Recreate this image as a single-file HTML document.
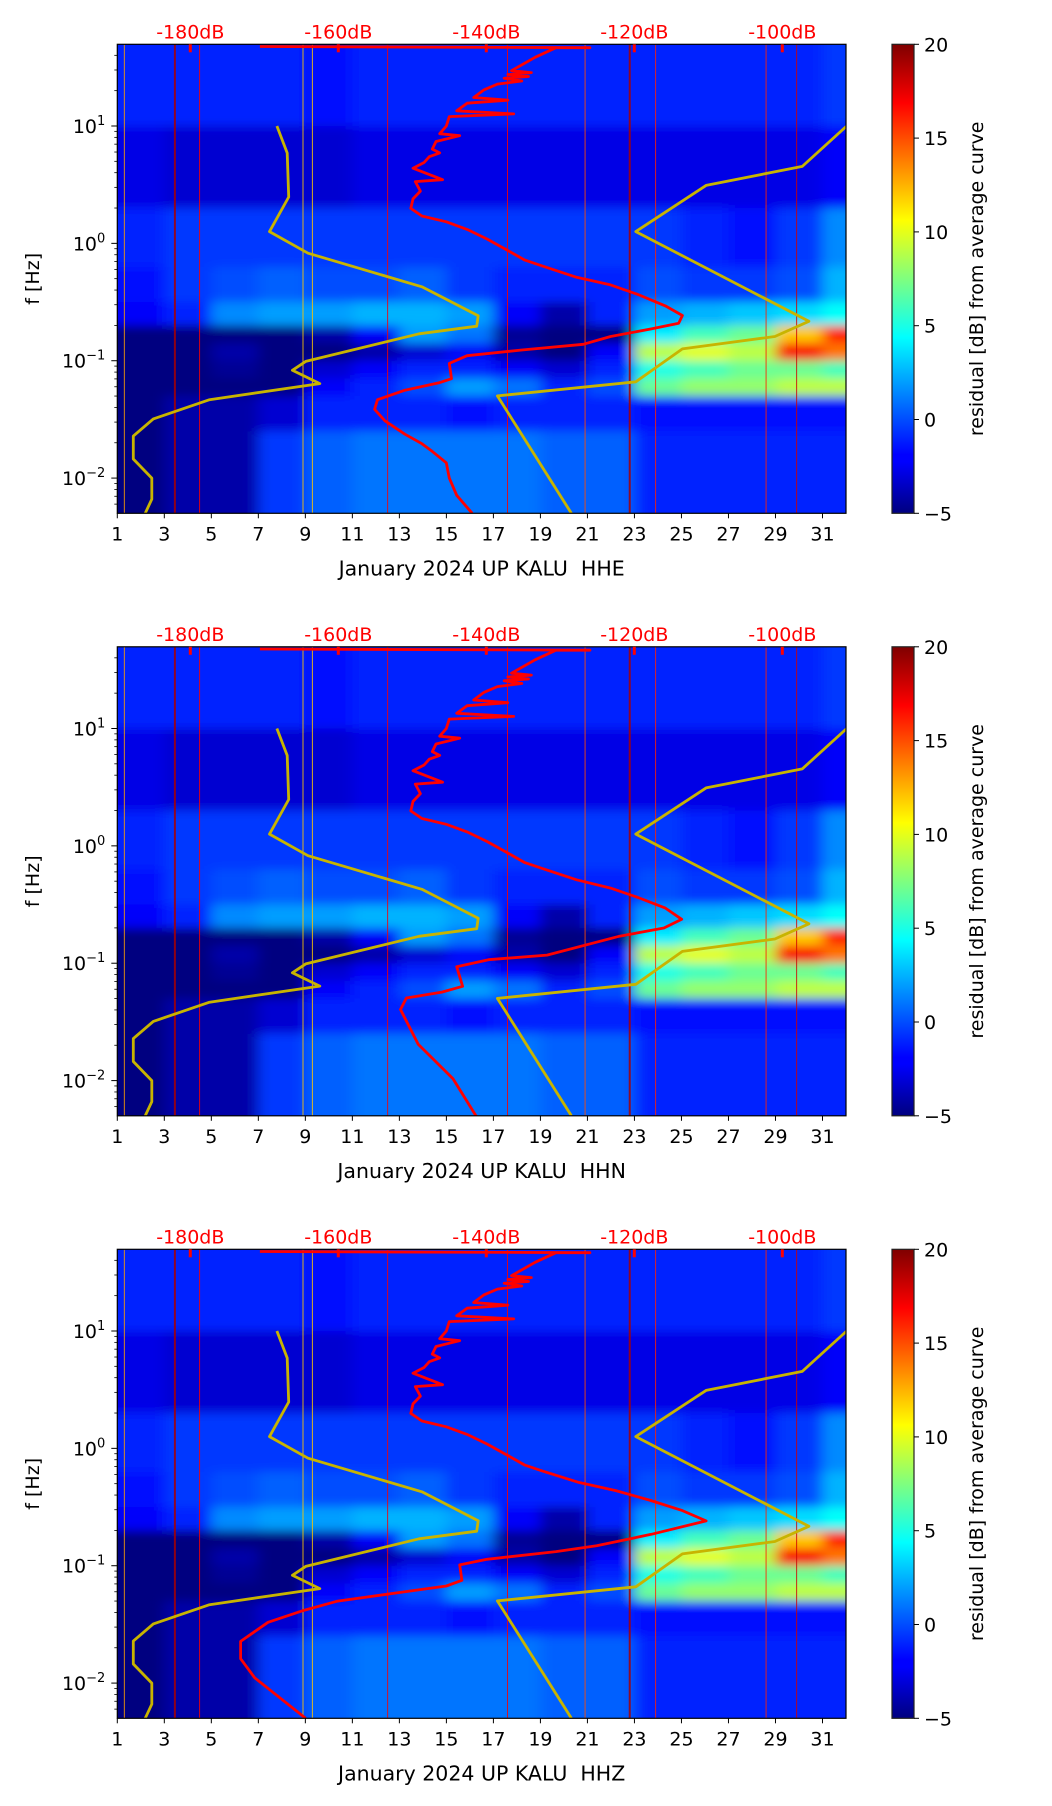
<!DOCTYPE html>
<html><head><meta charset="utf-8">
<style>
html,body{margin:0;padding:0;background:#fff;}
svg{display:block;font-family:"DejaVu Sans","Liberation Sans",sans-serif;}
</style></head>
<body>
<svg id="fig" xmlns="http://www.w3.org/2000/svg" width="1052" height="1806" viewBox="0 0 1052 1806">
<defs>
<linearGradient id="jetGrad" x1="0" y1="1" x2="0" y2="0">
<stop offset="0" stop-color="#00007f"/><stop offset="0.11" stop-color="#0000ff"/>
<stop offset="0.125" stop-color="#0000ff"/><stop offset="0.375" stop-color="#00ffff"/>
<stop offset="0.5" stop-color="#7fff7f"/><stop offset="0.625" stop-color="#ffff00"/>
<stop offset="0.875" stop-color="#ff0000"/><stop offset="1" stop-color="#7f0000"/>
</linearGradient>
<filter id="blurF" x="-10%" y="-10%" width="120%" height="120%"><feGaussianBlur stdDeviation="7 5"/></filter>
</defs>
</svg>
<script>
// ---- data ----
const channels = ["HHE", "HHN", "HHZ"];
const dayTicks = [1,3,5,7,9,11,13,15,17,19,21,23,25,27,29,31];
const dbTicks = [-180,-160,-140,-120,-100];
const logTicks = [1,0,-1,-2];
const cbTicks = [20,15,10,5,0,-5];
// heatmap rows (log10 f edges, top to bottom) and 2-day columns starting at these days
const rowEdges = [1.7,1.0,0.3,-0.2,-0.5,-0.7,-0.85,-1.0,-1.15,-1.3,-1.6,-2.3];
const colDays = [1,3,5,7,9,11,13,15,17,19,21,23,25,27,29,31];
const residualGrid = [
 [-1,-1,-1,-1,-1.5,-1,-1,-1,-1,-1,-1,-1,-1,-1,-1,-0.5],
 [-2.5,-3,-3,-3,-3,-2.5,-2.5,-2.5,-2.5,-2.5,-2.5,-2.5,-2.5,-2.5,-2.5,-2],
 [-1,-0.5,-0.5,-0.5,-0.5,-0.5,-0.5,-0.5,-0.5,-0.5,-0.5,-0.5,-1,-1.5,-0.5,1.5],
 [-1.5,-0.5,0,0.5,0,0,0.5,-0.5,-1,-1,-1,0,-0.5,-0.5,0,2.5],
 [-2,-1,1.5,2,2,2.5,2.5,2,-2,-4,-1,2,2.5,3,3.5,4.5],
 [-5,-5,-5,-5,-4,-2,2,1,-4.5,-5,-5,4,6,7,12,16],
 [-5,-5,-4,-5,-5,-4,-3,-2,-4,-5,-2,9,10,9,17,14],
 [-5,-5,-4.5,-5,-3,-2,-1,-1,-2,-3,-1,5,6,7,7,6],
 [-5,-5,-5,-5,-2,-1,0,2,1,-1,0,7,8,8,9,9],
 [-5,-4,-4,-3,-1,-1,-1,-1.5,-1,-1,-1,-1.5,-1.5,-1.5,-1.5,-1.5],
 [-5,-4,-4,-0.5,0.5,1,1,1,1,0.5,0.5,-1,-1,-1,-1,-1]
];
// streak lines: day positions and residual values
const streakDays = [3.45, 22.8, 4.5, 12.5, 17.6, 20.9, 23.9, 28.6, 29.9, 1.3, 8.9, 9.3];
const streakVals = [19, 19, 17, 17, 17, 15, 16, 16, 18, 13, 12, 12];
// low / high noise model (dB, log10 f)
const lowModelDb = [-168.3,-166.9,-166.7,-169.3,-164.1,-148.7,-141.1,-141.3,-149.1,-164.4,-166.2,-162.5,-177.4,-185.0,-187.7,-187.7,-185.2,-185.2,-186.1];
const lowModelLogF = [1.0,0.77,0.395,0.10,-0.084,-0.37,-0.616,-0.706,-0.771,-1.006,-1.082,-1.195,-1.332,-1.496,-1.642,-1.837,-2.0,-2.18,-2.30];
const highModelDb = [-91.3,-97.3,-110.3,-119.8,-96.4,-101.0,-113.5,-119.8,-138.5,-128.5];
const highModelLogF = [1.0,0.656,0.494,0.10,-0.664,-0.794,-0.899,-1.18,-1.30,-2.30];
// mean PSD curve, upper part shared, lower part per channel
const meanUpperDb = [-170.6,-126.0,-130.6,-133.4,-136.6,-133.9,-137.1,-134.3,-137.6,-135.2,-138.5,-140.3,-141.7,-137.1,-142.6,-144.0,-136.3,-145.0,-145.4,-146.3,-143.6,-146.8,-147.3,-146.3,-147.7,-148.4,-149.9,-145.9,-149.6,-148.9,-149.9,-150.2,-148.7,-145.4,-142.6,-139.9,-137.1,-134.8,-132.5];
const meanUpperLogF = [1.677,1.667,1.667,1.585,1.471,1.455,1.439,1.422,1.406,1.383,1.357,1.308,1.243,1.220,1.194,1.129,1.103,1.080,0.999,0.934,0.917,0.868,0.803,0.771,0.738,0.689,0.640,0.542,0.526,0.445,0.379,0.298,0.233,0.184,0.119,0.037,-0.061,-0.143,-0.191];
const meanLowerDbHHE = [-127.8,-123.2,-119.5,-115.8,-113.5,-114.0,-117.7,-123.2,-126.9,-135.2,-142.6,-145.0,-144.7,-146.3,-151.0,-154.7,-155.1,-153.7,-151.0,-148.7,-147.3,-145.4,-145.0,-144.0,-141.9];
const meanLowerLogFHHE = [-0.289,-0.354,-0.436,-0.533,-0.615,-0.680,-0.729,-0.794,-0.860,-0.909,-0.957,-1.023,-1.153,-1.186,-1.251,-1.332,-1.414,-1.512,-1.626,-1.707,-1.773,-1.870,-2.000,-2.147,-2.300];
const meanLowerDbHHN = [-127.8,-123.2,-119.5,-115.8,-113.6,-116,-122,-131.8,-139.7,-144.0,-143.2,-146.0,-150.8,-151.6,-149.2,-144.5,-141.3];
const meanLowerLogFHHN = [-0.289,-0.36,-0.44,-0.53,-0.626,-0.70,-0.77,-0.931,-0.970,-1.030,-1.197,-1.246,-1.296,-1.394,-1.690,-1.985,-2.31];
const meanLowerDbHHZ = [-127.5,-122.5,-118,-113.5,-110.3,-117.7,-125.1,-130.6,-139.9,-143.6,-143.3,-145.4,-151.0,-160.2,-164.9,-169.5,-173.2,-173.2,-171.3,-164.4];
const meanLowerLogFHHZ = [-0.29,-0.36,-0.44,-0.53,-0.618,-0.732,-0.83,-0.88,-0.945,-0.993,-1.124,-1.173,-1.221,-1.303,-1.385,-1.482,-1.645,-1.792,-1.955,-2.30];

// ---- layout ----
const SVGNS = "http://www.w3.org/2000/svg";
const svg = document.getElementById("fig");
const AX_L = 117.3, AX_R = 846, AX_T0 = 44.3, AX_H = 469, PANEL_DY = 602.5;
const LOG_TOP = 1.696, LOG_BOT = -2.30;
const CB_L = 892, CB_W = 22;
const VMIN = -5, VMAX = 20;

function xDay(d){ return AX_L + (d-1)*(AX_R-AX_L)/31; }
function xDb(db){ return 190.3 + (db+180)*7.4; }
function yLog(top, lf){ return top + (LOG_TOP-lf)*AX_H/(LOG_TOP-LOG_BOT); }
function yCb(top, v){ return top + (VMAX-v)*AX_H/(VMAX-VMIN); }
function jet(v){
  let t = Math.max(0, Math.min(1, (v-VMIN)/(VMAX-VMIN)));
  const c = x => Math.round(255*Math.max(0, Math.min(1, 1.5-Math.abs(x))));
  return `rgb(${c(4*t-3)},${c(4*t-2)},${c(4*t-1)})`;
}
function el(tag, attrs, parent){
  const e = document.createElementNS(SVGNS, tag);
  for (const k in attrs) e.setAttribute(k, attrs[k]);
  (parent||svg).appendChild(e);
  return e;
}

function drawPanel(p){
  const ch = channels[p];
  const top = AX_T0 + p*PANEL_DY, bot = top + AX_H;
  const g = el("g", {});
  
  

  const clipId = "clip"+p;
  const cp = el("clipPath", {id: clipId}, g);
  el("rect", {x: AX_L, y: top, width: AX_R-AX_L, height: AX_H}, cp);

  const heat = el("g", {"clip-path": `url(#${clipId})`}, g);
  
  
  el("rect", {x: AX_L, y: top, width: AX_R-AX_L, height: AX_H, fill: jet(-2)}, heat);
  const cells = el("g", {filter: "url(#blurF)"}, heat);
  for (let r = 0; r < residualGrid.length; r++){
    let y0 = yLog(top, rowEdges[r]), y1 = yLog(top, rowEdges[r+1]);
    if (r === 0) y0 -= 30;
    if (r === residualGrid.length-1) y1 += 30;
    for (let c = 0; c < colDays.length; c++){
      let x0 = xDay(colDays[c]), x1 = xDay(colDays[c]+2);
      if (c === 0) x0 -= 30;
      if (c === colDays.length-1) x1 += 30;
      const cell = el("rect", {x: x0, y: y0, width: x1-x0+0.5, height: y1-y0+0.5, fill: jet(residualGrid[r][c])}, cells);
      
      
    }
  }
  for (let i = 0; i < streakDays.length; i++){
    const x = xDay(streakDays[i]);
    const ln = el("line", {x1: x, x2: x, y1: top, y2: bot, stroke: jet(streakVals[i]), "stroke-width": i < 2 ? 2 : 1, opacity: 0.85}, heat);
    
    
  }

  // curves
  const curves = el("g", {"clip-path": `url(#${clipId})`}, g);
  const lineOf = (dbs, lfs) => dbs.map((d,i)=>`${xDb(d).toFixed(1)},${yLog(top, lfs[i]).toFixed(1)}`).join(" ");
  const lo = el("polyline", {points: lineOf(lowModelDb, lowModelLogF), fill: "none", stroke: "#c8b400", "stroke-width": 2.8, "stroke-linejoin": "round"}, curves);
  
  
  const hi = el("polyline", {points: lineOf(highModelDb, highModelLogF), fill: "none", stroke: "#c8b400", "stroke-width": 2.8, "stroke-linejoin": "round"}, curves);
  
  
  const lowDb = [meanLowerDbHHE, meanLowerDbHHN, meanLowerDbHHZ][p];
  const lowLf = [meanLowerLogFHHE, meanLowerLogFHHN, meanLowerLogFHHZ][p];
  const mean = el("polyline", {points: lineOf(meanUpperDb.concat(lowDb), meanUpperLogF.concat(lowLf)), fill: "none", stroke: "#ff0000", "stroke-width": 2.8, "stroke-linejoin": "round"}, curves);
  
  

  // frame
  const fr = el("rect", {x: AX_L, y: top, width: AX_R-AX_L, height: AX_H, fill: "none", stroke: "#000", "stroke-width": 1.2}, g);
  
  

  // x ticks
  dayTicks.forEach(d=>{
    const x = xDay(d);
    el("line", {x1: x, x2: x, y1: bot, y2: bot+5, stroke: "#000", "stroke-width": 1}, g);
    const t = el("text", {x: x, y: bot+27, "text-anchor": "middle", "font-size": 19}, g);
    t.textContent = d;
    
    
  });
  const xl = el("text", {x: (AX_L+AX_R)/2, y: bot+62, "text-anchor": "middle", "font-size": 20.5}, g);
  xl.textContent = "January 2024 UP KALU\u00a0\u00a0" + ch;
  
  

  // top dB ticks
  dbTicks.forEach(d=>{
    const x = xDb(d);
    el("line", {x1: x, x2: x, y1: top, y2: top+8, stroke: "#ff0000", "stroke-width": 3}, g);
    const t = el("text", {x: x, y: top-6, "text-anchor": "middle", "font-size": 19, fill: "#ff0000"}, g);
    t.textContent = d + "dB";
    
    
  });

  // y ticks
  for (let dec = -3; dec <= 1; dec++){
    for (let m = 2; m <= 9; m++){
      const lf = dec + Math.log10(m);
      if (lf > LOG_TOP || lf < LOG_BOT) continue;
      const y = yLog(top, lf);
      el("line", {x1: AX_L-3, x2: AX_L, y1: y, y2: y, stroke: "#000", "stroke-width": 0.8}, g);
    }
  }
  logTicks.forEach(lf=>{
    const y = yLog(top, lf);
    el("line", {x1: AX_L-6, x2: AX_L, y1: y, y2: y, stroke: "#000", "stroke-width": 1}, g);
    const t = el("text", {x: AX_L-12, y: y+7, "text-anchor": "end", "font-size": 19}, g);
    
    
    const a = el("tspan", {}, t); a.textContent = "10";
    const b = el("tspan", {"font-size": 13, dy: -8}, t); b.textContent = (lf < 0 ? "\u2212" : "") + Math.abs(lf);
  });
  const yl = el("text", {x: 0, y: 0, transform: `translate(39,${top+AX_H/2}) rotate(-90)`, "text-anchor": "middle", "font-size": 19}, g);
  yl.textContent = "f [Hz]";
  
  

  // colorbar
  const cb = el("rect", {x: CB_L, y: top, width: CB_W, height: AX_H, fill: "url(#jetGrad)", stroke: "#222", "stroke-width": 1.2}, g);
  
  
  cbTicks.forEach(v=>{
    const y = yCb(top, v);
    el("line", {x1: CB_L+CB_W, x2: CB_L+CB_W+5, y1: y, y2: y, stroke: "#000", "stroke-width": 1}, g);
    const t = el("text", {x: CB_L+CB_W+10, y: y+7, "font-size": 19}, g);
    t.textContent = v < 0 ? "\u2212" + Math.abs(v) : v;
    
    
  });
  const cl = el("text", {x: 0, y: 0, transform: `translate(983,${top+AX_H/2}) rotate(-90)`, "text-anchor": "middle", "font-size": 19}, g);
  cl.textContent = "residual [dB] from average curve";
  
  
}
for (let p = 0; p < 3; p++) drawPanel(p);
</script>
</body></html>
